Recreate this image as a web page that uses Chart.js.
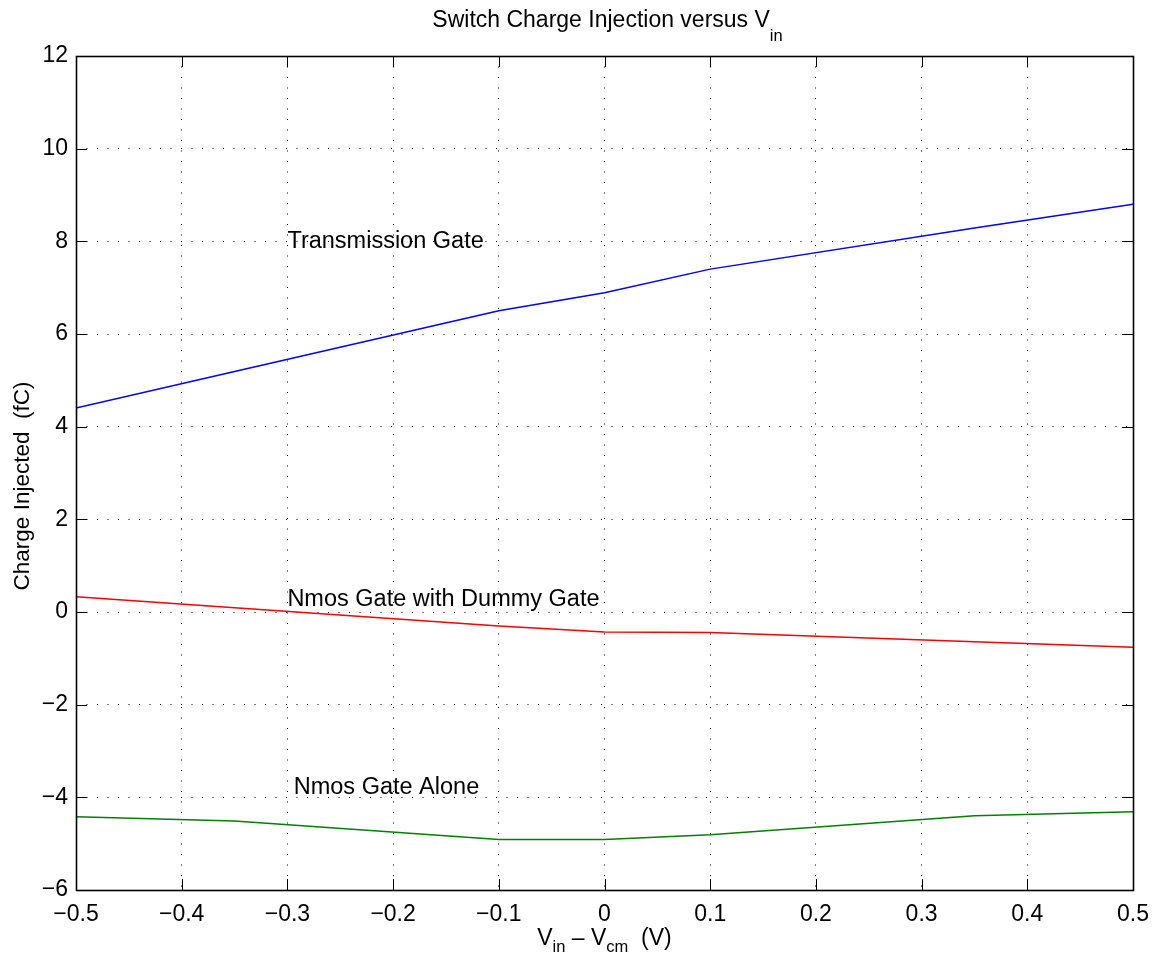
<!DOCTYPE html>
<html>
<head>
<meta charset="utf-8">
<title>Switch Charge Injection versus Vin</title>
<script src="https://cdn.jsdelivr.net/npm/chart.js@4/dist/chart.umd.min.js"></script>
<style>
  html, body { margin: 0; padding: 0; background: #fff; }
  canvas { display: block; }
</style>
</head>
<body>
<canvas id="chart" width="1163" height="961"></canvas>
<script>
// Input voltage relative to common mode (V)
const vin = [-0.5, -0.35, -0.1, 0, 0.1, 0.35, 0.5];

// Injected charge (fC) for each switch configuration
const transmissionGate = [4.40, 5.19, 6.50, 6.89, 7.40, 8.29, 8.80];
const nmosWithDummy    = [0.33, 0.09, -0.30, -0.43, -0.44, -0.64, -0.76];
const nmosAlone        = [-4.42, -4.51, -4.91, -4.91, -4.81, -4.40, -4.31];

// Axis tick values
const xTicks = [-0.5, -0.4, -0.3, -0.2, -0.1, 0, 0.1, 0.2, 0.3, 0.4, 0.5];
const yTicks = [-6, -4, -2, 0, 2, 4, 6, 8, 10, 12];

// In-plot curve labels (data coordinates of the left/middle anchor)
const curveLabels = [
  { text: 'Transmission Gate',         x: -0.30, y: 8.0 },
  { text: 'Nmos Gate with Dummy Gate', x: -0.30, y: 0.28 },
  { text: 'Nmos Gate Alone',           x: -0.294, y: -3.78 }
];

const FONT = '"Liberation Sans", Arial, Helvetica, sans-serif';
const MINUS = '\u2212';

function fmt(v) {
  const r = Math.round(v * 10) / 10;
  const s = String(Math.abs(r));
  return r < 0 ? MINUS + s : s;
}

function toXY(xs, ys) {
  return xs.map((x, i) => ({ x: x, y: ys[i] }));
}

// Draws text made of normal and subscript runs, centred on cx
function drawRich(ctx, parts, cx, baseline, size, subSize, subDrop) {
  let total = 0;
  const widths = parts.map(p => {
    ctx.font = (p.sub ? subSize : size) + 'px ' + FONT;
    const w = ctx.measureText(p.t).width;
    total += w;
    return w;
  });
  let x = cx - total / 2;
  ctx.textAlign = 'left';
  ctx.textBaseline = 'alphabetic';
  parts.forEach((p, i) => {
    ctx.font = (p.sub ? subSize : size) + 'px ' + FONT;
    ctx.fillText(p.t, x, baseline + (p.sub ? subDrop : 0));
    x += widths[i];
  });
}

const decorations = {
  id: 'decorations',
  afterDraw(chart) {
    const { ctx, chartArea: a, scales } = chart;
    const xs = scales.x, ys = scales.y;
    ctx.save();
    ctx.fillStyle = '#000';
    ctx.strokeStyle = '#000';

    // Inward tick marks on all four sides
    const tl = 11;
    ctx.lineWidth = 1;
    ctx.beginPath();
    xTicks.forEach(v => {
      const px = Math.round(xs.getPixelForValue(v)) + 0.5;
      ctx.moveTo(px, a.bottom); ctx.lineTo(px, a.bottom - tl);
      ctx.moveTo(px, a.top);    ctx.lineTo(px, a.top + tl);
    });
    yTicks.forEach(v => {
      const py = Math.round(ys.getPixelForValue(v)) + 0.5;
      ctx.moveTo(a.left, py);  ctx.lineTo(a.left + tl, py);
      ctx.moveTo(a.right, py); ctx.lineTo(a.right - tl, py);
    });
    ctx.stroke();

    // Axes box
    ctx.lineWidth = 1.6;
    ctx.strokeRect(Math.round(a.left) + 0.5, Math.round(a.top) + 0.5,
                   Math.round(a.right - a.left), Math.round(a.bottom - a.top));

    // Curve labels
    ctx.font = '23.5px ' + FONT;
    ctx.textAlign = 'left';
    ctx.textBaseline = 'middle';
    curveLabels.forEach(l => {
      ctx.fillText(l.text, xs.getPixelForValue(l.x), ys.getPixelForValue(l.y));
    });

    const cx = (a.left + a.right) / 2;

    // Title
    drawRich(ctx, [
      { t: 'Switch Charge Injection versus V' },
      { t: 'in', sub: true }
    ], cx + 3, 27, 23, 16.5, 14);

    // X axis label
    drawRich(ctx, [
      { t: 'V' }, { t: 'in', sub: true },
      { t: ' ' + '\u2013' + ' V' }, { t: 'cm', sub: true },
      { t: '  (V)' }
    ], cx, 945, 23, 16.5, 7);

    // Y axis label
    ctx.translate(29, 486);
    ctx.rotate(-Math.PI / 2);
    ctx.font = '22.5px ' + FONT;
    ctx.textAlign = 'center';
    ctx.textBaseline = 'alphabetic';
    ctx.fillText('Charge Injected  (fC)', 0, 0);
    ctx.restore();
  }
};

const lineStyle = { borderWidth: 1.5, pointRadius: 0, tension: 0, fill: false };

new Chart(document.getElementById('chart'), {
  type: 'line',
  data: {
    datasets: [
      Object.assign({ label: 'Transmission Gate', data: toXY(vin, transmissionGate), borderColor: '#0000ff' }, lineStyle),
      Object.assign({ label: 'Nmos Gate with Dummy Gate', data: toXY(vin, nmosWithDummy), borderColor: '#ff0000' }, lineStyle),
      Object.assign({ label: 'Nmos Gate Alone', data: toXY(vin, nmosAlone), borderColor: '#008000' }, lineStyle)
    ]
  },
  options: {
    responsive: false,
    animation: false,
    events: [],
    layout: { padding: { top: 56, right: 30, left: 0, bottom: 0 } },
    plugins: { legend: { display: false }, title: { display: false }, tooltip: { enabled: false } },
    scales: {
      x: {
        type: 'linear',
        min: -0.5, max: 0.5,
        afterBuildTicks: s => { s.ticks = xTicks.map(v => ({ value: v })); },
        afterFit: s => { s.height = 71; },
        grid: { color: '#000', lineWidth: 1, drawTicks: false },
        border: { display: false, dash: [1, 9.5] },
        ticks: {
          color: '#000', padding: 11, maxRotation: 0, autoSkip: false,
          font: { family: FONT, size: 23 },
          callback: v => fmt(v)
        }
      },
      y: {
        type: 'linear',
        min: -6, max: 12,
        afterBuildTicks: s => { s.ticks = yTicks.map(v => ({ value: v })); },
        afterFit: s => { s.width = 76; },
        grid: { color: '#000', lineWidth: 1, drawTicks: false },
        border: { display: false, dash: [1, 9.5] },
        ticks: {
          color: '#000', padding: 8, autoSkip: false,
          font: { family: FONT, size: 23 },
          callback: v => fmt(v)
        }
      }
    }
  },
  plugins: [decorations]
});
</script>
</body>
</html>
